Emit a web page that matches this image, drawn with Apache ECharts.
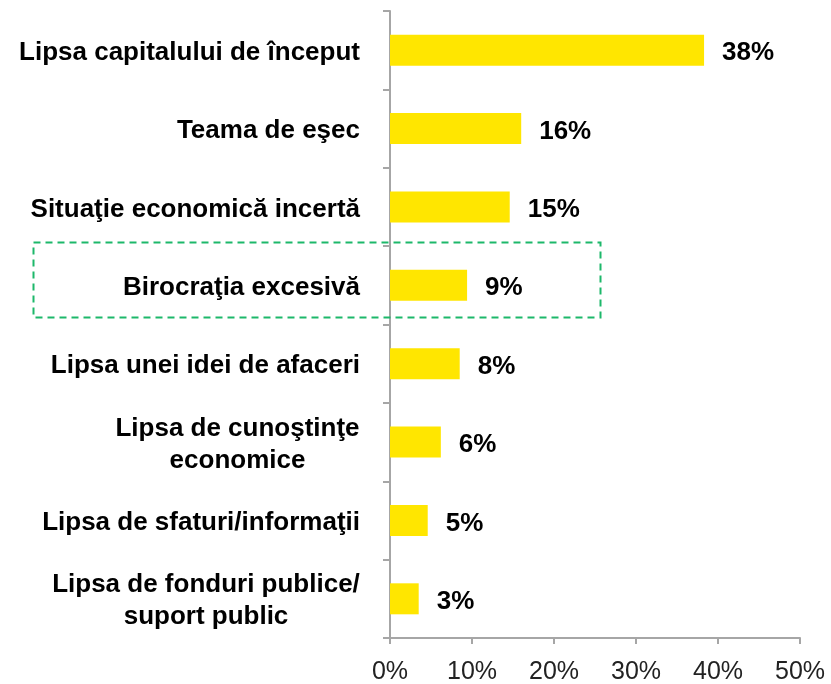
<!DOCTYPE html>
<html>
<head>
<meta charset="utf-8">
<style>
  body { margin: 0; padding: 0; background: #fff; }
  #chart { width: 831px; height: 684px; }
</style>
</head>
<body>
<div id="chart"></div>
<script src="https://cdn.jsdelivr.net/npm/echarts@6/dist/echarts.min.js"></script>
<script>
// categories top to bottom
var categories = [
  'Lipsa capitalului de început',
  'Teama de eşec',
  'Situaţie economică incertă',
  'Birocraţia excesivă',
  'Lipsa unei idei de afaceri',
  'Lipsa de cunoştinţe\neconomice',
  'Lipsa de sfaturi/informaţii',
  'Lipsa de fonduri publice/\nsuport public'
];
var values = [38.3, 16.0, 14.6, 9.4, 8.5, 6.2, 4.6, 3.5];
var valueLabels = ['38%', '16%', '15%', '9%', '8%', '6%', '5%', '3%'];
var xTicks = [0, 10, 20, 30, 40, 50];

var font = "'Liberation Sans', Arial, sans-serif";
var labelSize = 26;

// two-line labels: lines centred on each other, block right-aligned at the axis
var ctx = document.createElement('canvas').getContext('2d');
ctx.font = 'bold ' + labelSize + 'px ' + font;
function blockWidth(s) {
  return Math.ceil(Math.max.apply(null, s.split('\n').map(function (l) { return ctx.measureText(l).width; })));
}
var rich = {};
categories.forEach(function (c) {
  if (c.indexOf('\n') < 0) return;
  var w = blockWidth(c);
  rich['c' + w] = {
    width: w, align: 'center', color: '#000', fontSize: labelSize,
    fontWeight: 'bold', fontFamily: font, lineHeight: 32
  };
});

var myChart = echarts.init(document.getElementById('chart'));
myChart.setOption({
  animation: false,
  grid: { left: 390, right: 31, top: 11, bottom: 46, outerBoundsMode: 'none' },
  xAxis: {
    type: 'value',
    min: xTicks[0],
    max: xTicks[xTicks.length - 1],
    interval: 10,
    axisLine: { show: true, lineStyle: { color: '#a6a6a6', width: 2 } },
    axisTick: { show: true, length: 6, lineStyle: { color: '#a6a6a6', width: 2 } },
    splitLine: { show: false },
    axisLabel: {
      formatter: '{value}%',
      color: '#222',
      fontSize: 25,
      fontFamily: font,
      margin: 22
    }
  },
  yAxis: {
    type: 'category',
    inverse: true,
    data: categories,
    axisLine: { show: true, lineStyle: { color: '#a6a6a6', width: 2 } },
    axisTick: { show: true, length: 7, lineStyle: { color: '#a6a6a6', width: 2 } },
    axisLabel: {
      color: '#000',
      fontSize: labelSize,
      fontWeight: 'bold',
      fontFamily: font,
      margin: 30,
      lineHeight: 32,
      padding: [5, 0, 0, 0],
      formatter: function (v) {
        if (v.indexOf('\n') < 0) return v;
        var key = 'c' + blockWidth(v);
        return v.split('\n').map(function (l) { return '{' + key + '|' + l + '}'; }).join('\n');
      },
      rich: rich
    }
  },
  series: [{
    type: 'bar',
    data: values,
    barWidth: 31,
    itemStyle: { color: '#ffe600' },
    label: {
      show: true,
      position: 'right',
      distance: 18,
      offset: [0, 3],
      color: '#000',
      fontSize: 26,
      fontWeight: 'bold',
      fontFamily: font,
      formatter: function (p) { return valueLabels[p.dataIndex]; }
    }
  }],
  graphic: [{
    type: 'rect',
    shape: { x: 33.5, y: 242.5, width: 567, height: 75 },
    style: { fill: 'none', stroke: '#1db86a', lineWidth: 2, lineDash: [7, 5] },
    z: 10
  }]
});
</script>
</body>
</html>
